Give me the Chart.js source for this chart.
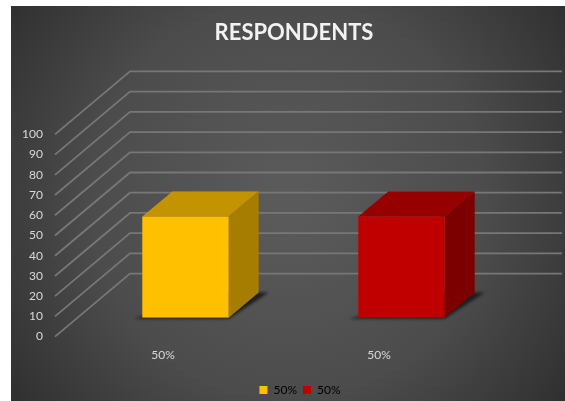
<!DOCTYPE html>
<html>
<head>
<meta charset="utf-8">
<script src="https://cdn.jsdelivr.net/npm/chart.js@4"></script>
<style>
    html, body { margin: 0; padding: 0; background: #fff; }
    #wrap { width: 565px; height: 401px; }
</style>
</head>
<body>
<div id="wrap"><canvas id="canvas"></canvas></div>
<script>
const categories = ['50%', '50%'];
const respondents = [50, 50];
const yTicks = [0, 10, 20, 30, 40, 50, 60, 70, 80, 90, 100];

const FRONT_COLORS = ['#FFC000', '#C00000'];
const TOP_COLORS = ['#C49300', '#960000'];
const SIDE_COLORS = ['#A67D00', '#7D0000'];

//how far the back wall sits from the front plane, in pixels
const DEPTH_X = 75;
const DEPTH_Y = 63;
//bars stand between these two fractions of the floor depth
const BAR_NEAR = 0.3;
const BAR_FAR = 0.7;

function polygon(ctx, points, color) {
    ctx.fillStyle = color;
    ctx.beginPath();
    points.forEach((p, i) => i ? ctx.lineTo(p[0], p[1]) : ctx.moveTo(p[0], p[1]));
    ctx.closePath();
    ctx.fill();
}

//dark panel with the lighter middle, and the wall lines going back from the axis
const wallsPlugin = {
    id: 'walls',
    afterLayout(chart) {
        //legend sits a little right of and below its default slot
        chart.legend.left += 6;
        chart.legend.right += 6;
        chart.legend.top += 5;
        chart.legend.bottom += 5;
    },
    beforeDraw(chart) {
        const ctx = chart.ctx;
        const grad = ctx.createRadialGradient(288, 200, 20, 288, 200, 340);
        grad.addColorStop(0, '#5a5a5a');
        grad.addColorStop(0.55, '#4c4c4c');
        grad.addColorStop(1, '#303030');
        ctx.save();
        ctx.fillStyle = '#fff';
        ctx.fillRect(0, 0, chart.width, chart.height);
        ctx.fillStyle = grad;
        ctx.fillRect(11, 6, 554, 395);
        ctx.restore();
    },
    beforeDatasetsDraw(chart) {
        const ctx = chart.ctx;
        const area = chart.chartArea;
        const y = chart.scales.y;
        ctx.save();
        ctx.strokeStyle = '#777777';
        ctx.lineWidth = 1.8;
        yTicks.forEach(t => {
            const py = y.getPixelForValue(t);
            ctx.beginPath();
            ctx.moveTo(area.left, py);
            ctx.lineTo(area.left + DEPTH_X, py - DEPTH_Y);
            ctx.lineTo(area.right + DEPTH_X, py - DEPTH_Y);
            ctx.stroke();
        });
        ctx.restore();
    }
};

//bars are drawn by the library, moved back to BAR_NEAR; the top, side and
//floor shadow are added from the same bar geometry
const boxPlugin = {
    id: 'boxes',
    beforeDatasetsDraw(chart) {
        const ctx = chart.ctx;
        const dx = DEPTH_X * BAR_NEAR;
        const dy = DEPTH_Y * BAR_NEAR;
        const ox = DEPTH_X * (BAR_FAR - BAR_NEAR);
        const oy = DEPTH_Y * (BAR_FAR - BAR_NEAR);
        chart.getDatasetMeta(0).data.forEach((bar, i) => {
            const b = bar.getProps(['x', 'y', 'base', 'width'], true);
            const l = b.x - b.width / 2 + dx;
            const r = b.x + b.width / 2 + dx;
            const top = b.y - dy;
            const bottom = b.base - dy;
            ctx.save();
            ctx.filter = 'blur(1.5px)';
            polygon(ctx, [[l - 9, bottom + 1], [r, bottom + 1], [r + ox + 10, bottom - oy], [r, bottom - oy]], '#1e1e1e');
            ctx.restore();
            polygon(ctx, [[l, top], [l + ox, top - oy], [r + ox, top - oy], [r, top]], TOP_COLORS[i]);
            polygon(ctx, [[r, top], [r + ox, top - oy], [r + ox, bottom - oy], [r, bottom]], SIDE_COLORS[i]);
        });
        ctx.save();
        ctx.translate(dx, -dy);
    },
    afterDatasetsDraw(chart) {
        chart.ctx.restore();
    }
};

new Chart(document.getElementById('canvas'), {
    type: 'bar',
    data: {
        labels: categories,
        datasets: [{
            data: respondents,
            backgroundColor: FRONT_COLORS,
            barPercentage: 0.4,
            categoryPercentage: 1
        }]
    },
    options: {
        responsive: true,
        maintainAspectRatio: false,
        animation: false,
        layout: { padding: { left: 23, right: 0, top: 20, bottom: 0 } },
        plugins: {
            title: {
                display: true,
                text: 'RESPONDENTS',
                color: '#f2f2f2',
                font: { family: 'Lato', size: 22, weight: 'bold' },
                padding: { top: 0, bottom: 88 }
            },
            legend: {
                position: 'bottom',
                labels: {
                    boxWidth: 8,
                    boxHeight: 8,
                    padding: 6,
                    color: '#d9d9d9',
                    font: { family: 'Lato', size: 12 },
                    generateLabels: () => categories.map((c, i) => ({
                        text: c,
                        fillStyle: FRONT_COLORS[i],
                        strokeStyle: FRONT_COLORS[i],
                        lineWidth: 0,
                        index: i
                    }))
                }
            },
            tooltip: { enabled: false }
        },
        scales: {
            x: {
                grid: { display: false, drawTicks: false },
                border: { display: false },
                ticks: { color: '#d9d9d9', padding: 11, font: { family: 'Lato', size: 12 } }
            },
            y: {
                min: 0,
                max: 100,
                grid: { display: false, drawTicks: false },
                border: { display: false },
                afterFit(scale) { scale.width = 32; },
                ticks: { color: '#d9d9d9', padding: 12, stepSize: 10, font: { family: 'Lato', size: 12 } }
            },
            //empty axis that keeps room on the right for the receding wall
            wall: {
                position: 'right',
                grid: { display: false, drawTicks: false },
                border: { display: false },
                ticks: { display: false },
                afterFit(scale) { scale.width = 78; }
            }
        }
    },
    plugins: [wallsPlugin, boxPlugin]
});
</script>
</body>
</html>
